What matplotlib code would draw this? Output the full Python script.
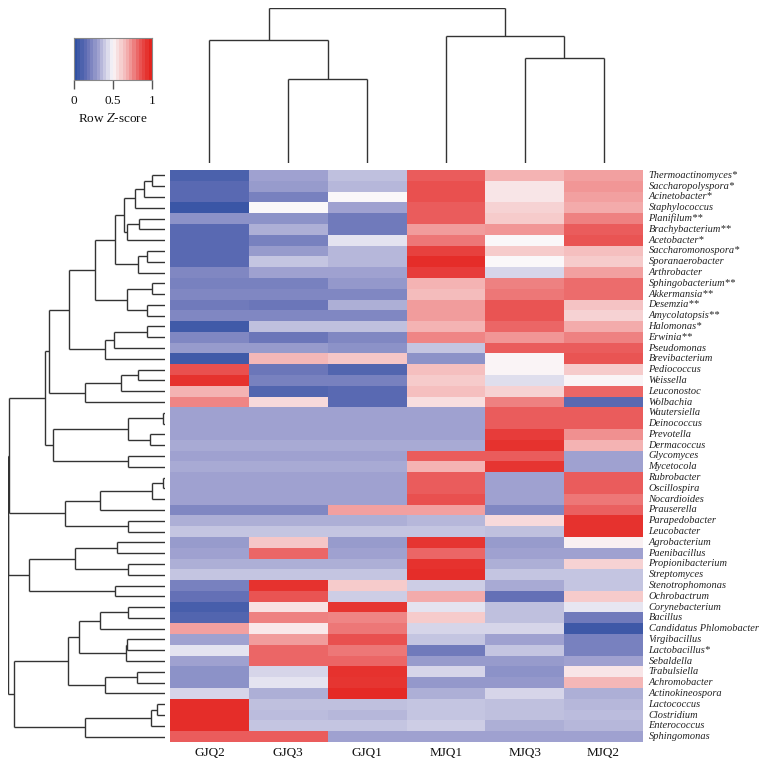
import numpy as np
import matplotlib
matplotlib.use("Agg")
import matplotlib.pyplot as plt
from matplotlib.colors import LinearSegmentedColormap
from matplotlib.collections import LineCollection

plt.rcParams['font.family'] = ['Liberation Serif', 'DejaVu Serif']
plt.rcParams['mathtext.fontset'] = 'stix'

genera = [
    "Thermoactinomyces*", "Saccharopolyspora*", "Acinetobacter*", "Staphylococcus",
    "Planifilum**", "Brachybacterium**", "Acetobacter*", "Saccharomonospora*",
    "Sporanaerobacter", "Arthrobacter", "Sphingobacterium**", "Akkermansia**",
    "Desemzia**", "Amycolatopsis**", "Halomonas*", "Erwinia**",
    "Pseudomonas", "Brevibacterium", "Pediococcus", "Weissella", "Leuconostoc", "Wolbachia",
    "Wautersiella", "Deinococcus", "Prevotella", "Dermacoccus", "Glycomyces", "Mycetocola",
    "Rubrobacter", "Oscillospira", "Nocardioides", "Prauserella", "Parapedobacter", "Leucobacter",
    "Agrobacterium", "Paenibacillus", "Propionibacterium", "Streptomyces", "Stenotrophomonas",
    "Ochrobactrum", "Corynebacterium", "Bacillus", "Candidatus Phlomobacter", "Virgibacillus",
    "Lactobacillus*", "Sebaldella", "Trabulsiella", "Achromobacter", "Actinokineospora",
    "Lactococcus", "Clostridium", "Enterococcus", "Sphingomonas",
]
samples = ["GJQ2", "GJQ3", "GJQ1", "MJQ1", "MJQ3", "MJQ2"]

GJQ2 = [0.08, 0.12, 0.12, 0.03, 0.25, 0.12, 0.12, 0.12, 0.12, 0.22, 0.20, 0.22, 0.18, 0.22,
        0.05, 0.22, 0.28, 0.05, 0.88, 0.96, 0.68, 0.77, 0.30, 0.30, 0.30, 0.32, 0.30, 0.32,
        0.30, 0.30, 0.30, 0.22, 0.33, 0.38, 0.28, 0.30, 0.33, 0.38, 0.20, 0.15, 0.07, 0.10,
        0.72, 0.30, 0.45, 0.30, 0.25, 0.25, 0.42, 0.97, 0.97, 0.97, 0.85]
GJQ3 = [0.30, 0.28, 0.20, 0.50, 0.25, 0.33, 0.20, 0.28, 0.38, 0.30, 0.20, 0.22, 0.17, 0.22,
        0.37, 0.17, 0.28, 0.67, 0.17, 0.20, 0.10, 0.58, 0.30, 0.30, 0.30, 0.32, 0.30, 0.32,
        0.30, 0.30, 0.30, 0.22, 0.33, 0.38, 0.63, 0.83, 0.33, 0.38, 0.96, 0.87, 0.56, 0.78,
        0.54, 0.73, 0.83, 0.83, 0.42, 0.45, 0.33, 0.37, 0.36, 0.38, 0.85]
GJQ1 = [0.37, 0.35, 0.50, 0.30, 0.18, 0.18, 0.45, 0.35, 0.35, 0.30, 0.27, 0.22, 0.33, 0.22,
        0.37, 0.22, 0.25, 0.63, 0.10, 0.20, 0.12, 0.12, 0.30, 0.30, 0.30, 0.32, 0.30, 0.32,
        0.30, 0.30, 0.30, 0.72, 0.33, 0.38, 0.28, 0.30, 0.33, 0.38, 0.62, 0.40, 0.95, 0.77,
        0.80, 0.88, 0.80, 0.83, 0.96, 0.95, 0.98, 0.37, 0.35, 0.38, 0.30]
MJQ1 = [0.85, 0.88, 0.88, 0.85, 0.85, 0.73, 0.80, 0.92, 0.97, 0.93, 0.68, 0.66, 0.73, 0.73,
        0.68, 0.77, 0.38, 0.25, 0.65, 0.62, 0.65, 0.57, 0.30, 0.30, 0.30, 0.32, 0.85, 0.68,
        0.85, 0.85, 0.88, 0.72, 0.35, 0.38, 0.95, 0.83, 0.96, 0.97, 0.40, 0.70, 0.45, 0.62,
        0.42, 0.38, 0.18, 0.28, 0.42, 0.27, 0.33, 0.38, 0.38, 0.40, 0.30]
MJQ3 = [0.68, 0.55, 0.55, 0.60, 0.62, 0.74, 0.50, 0.62, 0.50, 0.42, 0.78, 0.80, 0.87, 0.87,
        0.83, 0.74, 0.85, 0.51, 0.51, 0.44, 0.60, 0.78, 0.85, 0.85, 0.93, 0.96, 0.85, 0.95,
        0.30, 0.30, 0.30, 0.22, 0.58, 0.37, 0.28, 0.30, 0.33, 0.38, 0.32, 0.15, 0.37, 0.37,
        0.42, 0.30, 0.38, 0.28, 0.25, 0.27, 0.42, 0.37, 0.37, 0.33, 0.30]
MJQ2 = [0.72, 0.74, 0.72, 0.70, 0.78, 0.85, 0.87, 0.65, 0.62, 0.72, 0.82, 0.82, 0.64, 0.60,
        0.70, 0.78, 0.85, 0.87, 0.62, 0.51, 0.83, 0.12, 0.85, 0.85, 0.75, 0.68, 0.30, 0.30,
        0.85, 0.85, 0.80, 0.84, 0.96, 0.96, 0.52, 0.30, 0.60, 0.38, 0.38, 0.62, 0.46, 0.18,
        0.04, 0.20, 0.20, 0.30, 0.55, 0.67, 0.33, 0.35, 0.36, 0.35, 0.30]

# row dendrogram merges: (child a, child b, height); internal nodes numbered from 53
row_merges = [
    (0, 1, 13), (53, 2, 21), (54, 3, 30), (4, 5, 26), (56, 6, 38), (55, 57, 41),
    (7, 8, 18), (59, 9, 27), (58, 60, 50), (10, 11, 13), (12, 13, 18), (62, 63, 38),
    (61, 64, 70), (14, 15, 18), (66, 16, 51), (67, 17, 60), (65, 68, 96), (18, 19, 27),
    (70, 20, 44), (71, 21, 80), (69, 72, 116), (22, 23, 2), (24, 25, 15), (74, 75, 37),
    (26, 27, 37), (76, 77, 112), (73, 78, 120), (28, 29, 2), (80, 30, 13), (81, 31, 65),
    (32, 33, 37), (82, 83, 100), (34, 35, 48), (36, 37, 37), (85, 86, 90), (38, 39, 50),
    (87, 88, 136), (40, 41, 37), (90, 42, 65), (43, 44, 38), (92, 45, 39), (91, 93, 86),
    (46, 47, 28), (95, 48, 60), (94, 96, 97), (49, 50, 8), (98, 51, 14), (99, 52, 80),
    (97, 100, 151), (79, 84, 156.4), (102, 89, 156.7), (103, 101, 157),
]
# column dendrogram merges, internal nodes numbered from 6
col_merges = [(1, 2, 84), (0, 6, 123), (4, 5, 105), (3, 8, 127), (7, 9, 155)]

data = np.array([GJQ2, GJQ3, GJQ1, MJQ1, MJQ3, MJQ2]).T

cmap = LinearSegmentedColormap.from_list("bwr_soft", [
    (0.00, (48/255, 80/255, 162/255)),
    (0.15, (100/255, 112/255, 182/255)),
    (0.30, (160/255, 162/255, 208/255)),
    (0.50, (250/255, 248/255, 250/255)),
    (0.70, (243/255, 172/255, 172/255)),
    (0.85, (234/255, 92/255, 92/255)),
    (1.00, (228/255, 35/255, 30/255)),
])

W, H = 759, 767
fig = plt.figure(figsize=(W / 100, H / 100), dpi=100)


def ax_px(x0, y0, x1, y1):
    return fig.add_axes([x0 / W, 1 - y1 / H, (x1 - x0) / W, (y1 - y0) / H])


def dendro_segments(n, merges):
    pos = {i: i + 0.5 for i in range(n)}
    hgt = {i: 0.0 for i in range(n)}
    segs = []
    for k, (a, b, h) in enumerate(merges):
        node = n + k
        segs.append([(hgt[a], pos[a]), (h, pos[a])])
        segs.append([(hgt[b], pos[b]), (h, pos[b])])
        segs.append([(h, pos[a]), (h, pos[b])])
        pos[node] = (pos[a] + pos[b]) / 2
        hgt[node] = h
    return segs


nrow, ncol = data.shape

# heatmap
axh = ax_px(170, 170, 643, 742)
axh.pcolormesh(np.arange(ncol + 1), np.arange(nrow + 1), data, cmap=cmap, vmin=0, vmax=1)
axh.set_xlim(0, ncol)
axh.set_ylim(nrow, 0)
axh.axis('off')
for i, g in enumerate(genera):
    axh.text(ncol + 0.07, i + 0.5, g, ha='left', va='center', fontsize=7.5,
             style='italic', color='#222222')
for j, s in enumerate(samples):
    axh.text(j + 0.5, nrow + 0.45, s, ha='center', va='top', fontsize=9.5, color='#111111')

# row dendrogram
axr = ax_px(7.5, 170, 165, 742)
segs = dendro_segments(nrow, row_merges)
axr.add_collection(LineCollection(segs, colors='#333333', linewidths=1.0))
axr.set_xlim(157.5, 0)
axr.set_ylim(nrow, 0)
axr.axis('off')

# column dendrogram
axc = ax_px(170, 7.5, 643, 163)
csegs = [[(p[1], p[0]) for p in s] for s in dendro_segments(ncol, col_merges)]
axc.add_collection(LineCollection(csegs, colors='#333333', linewidths=1.0))
axc.set_xlim(0, ncol)
axc.set_ylim(0, 155.5)
axc.axis('off')

# color key
axk = ax_px(74, 38, 152, 80)
axk.imshow(np.linspace(0, 1, 24)[None, :], aspect='auto', extent=[0, 1, 0, 1],
           cmap=cmap, vmin=0, vmax=1)
for sp in axk.spines.values():
    sp.set_color('#888888')
    sp.set_linewidth(0.8)
axk.set_yticks([])
axk.set_xticks([0, 0.5, 1])
axk.set_xticklabels(["0", "0.5", "1"])
axk.tick_params(axis='x', length=6.5, width=1.0, color='#555555', labelsize=9.5, pad=4,
                labelcolor='#111111')
fig.text(113 / W, 1 - 119 / H, "Row $Z$-score", ha='center', va='center', fontsize=9.5,
         color='#111111')

fig.savefig("out.png", dpi=100)
